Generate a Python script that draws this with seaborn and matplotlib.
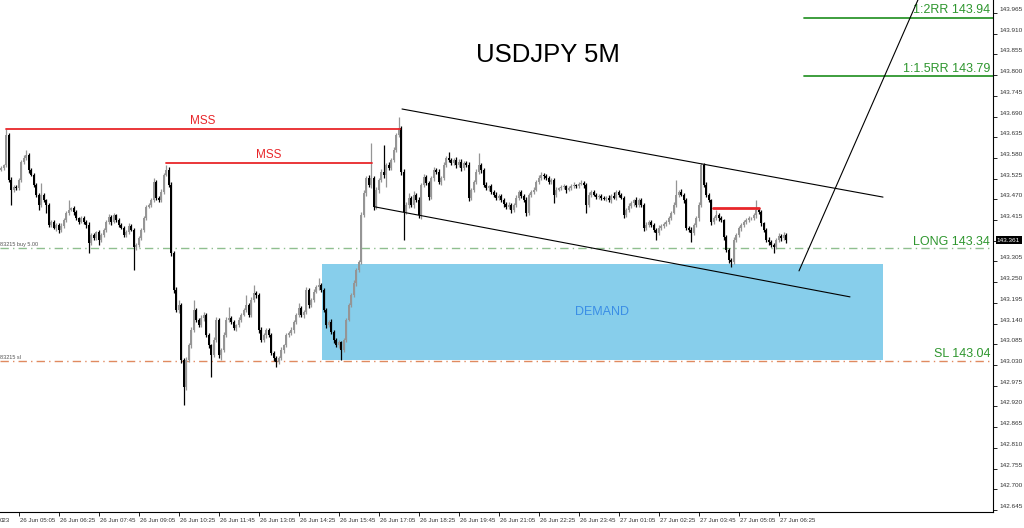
import numpy as np
import pandas as pd
import matplotlib
matplotlib.use('Agg')
import matplotlib.pyplot as plt
import matplotlib.transforms as mtransforms
import seaborn as sns

# close prices in points above 143.000 (1 pt = 0.001)
closes = [
    553, 561, 640, 521, 495, 503, 500, 521, 570, 580,
    588, 548, 535, 508, 482, 455, 482, 468, 455, 402,
    410, 394, 402, 389, 399, 415, 434, 442, 447, 436,
    420, 410, 420, 410, 402, 354, 375, 367, 383, 362,
    375, 389, 410, 423, 410, 428, 415, 402, 394, 375,
    383, 399, 389, 343, 349, 367, 389, 420, 450, 455,
    468, 516, 474, 468, 490, 535, 548, 508, 327, 229,
    176, 190, 43, -28, 43, 83, 123, 176, 150, 136,
    155, 163, 110, 83, 57, 96, 150, 57, 70, 110,
    150, 155, 144, 128, 136, 150, 163, 176, 190, 163,
    203, 221, 216, 123, 96, 110, 123, 110, 62, 49,
    38, 49, 70, 83, 110, 115, 123, 144, 163, 182,
    163, 171, 229, 190, 203, 224, 237, 243, 229, 176,
    136, 144, 118, 96, 83, 91, 70, 96, 150, 190,
    216, 248, 282, 304, 428, 487, 527, 508, 527, 450,
    495, 521, 543, 535, 561, 553, 575, 601, 641, 660,
    543, 436, 455, 474, 455, 482, 468, 428, 508, 529,
    513, 476, 527, 548, 543, 516, 527, 561, 580, 575,
    567, 575, 561, 570, 553, 567, 561, 474, 495, 516,
    543, 561, 548, 508, 500, 505, 490, 482, 474, 479,
    468, 458, 450, 455, 442, 455, 474, 490, 479, 468,
    434, 482, 490, 495, 516, 527, 535, 532, 527, 516,
    521, 482, 495, 500, 503, 505, 495, 500, 505, 508,
    505, 511, 513, 508, 455, 482, 490, 482, 476, 479,
    474, 471, 474, 468, 479, 474, 490, 482, 474, 428,
    442, 452, 460, 468, 455, 468, 455, 394, 402, 410,
    402, 389, 381, 394, 399, 405, 410, 420, 434, 455,
    482, 490, 482, 468, 394, 389, 381, 402, 420, 455,
    561, 508, 482, 468, 410, 420, 428, 420, 415, 370,
    335, 309, 304, 362, 375, 394, 402, 410, 415, 420,
    420, 428, 442, 436, 407, 389, 362, 357, 349, 343,
    362, 373, 367, 375, 361,
]
first_open = 548

# upper / lower wick lengths in points
wick_up = [
    5, 4, 17, 6, 8, 5, 4, 6, 5, 7,
    13, 5, 6, 4, 5, 6, 31, 5, 4, 6,
    5, 6, 4, 5, 7, 5, 6, 26, 4, 5,
    6, 4, 5, 7, 4, 8, 5, 6, 4, 5,
    6, 5, 4, 7, 5, 6, 4, 5, 6, 4,
    5, 8, 6, 5, 4, 6, 5, 7, 4, 6,
    5, 11, 6, 4, 7, 5, 13, 9, 8, 6,
    7, 12, 6, 5, 8, 6, 9, 27, 6, 5,
    8, 7, 5, 6, 4, 9, 7, 5, 6, 8,
    7, 29, 5, 6, 4, 7, 5, 6, 26, 5,
    8, 22, 6, 5, 7, 4, 6, 5, 6, 4,
    5, 6, 7, 4, 6, 5, 7, 6, 5, 13,
    6, 5, 7, 5, 6, 8, 5, 18, 6, 5,
    6, 5, 7, 4, 6, 5, 4, 7, 6, 5,
    6, 8, 7, 5, 9, 7, 6, 8, 93, 6,
    7, 5, 8, 71, 6, 9, 5, 7, 6, 29,
    6, 8, 7, 12, 6, 9, 5, 7, 6, 8,
    5, 7, 6, 9, 5, 7, 6, 8, 5, 16,
    6, 5, 7, 6, 8, 5, 6, 7, 5, 6,
    7, 32, 6, 5, 7, 4, 6, 5, 7, 6,
    5, 6, 4, 7, 5, 6, 8, 5, 6, 4,
    7, 5, 6, 8, 5, 7, 8, 6, 5, 4,
    6, 5, 7, 4, 6, 5, 4, 6, 5, 7,
    4, 6, 8, 5, 6, 7, 5, 4, 6, 5,
    4, 6, 5, 7, 4, 11, 6, 5, 4, 6,
    5, 7, 6, 4, 8, 5, 6, 4, 7, 5,
    6, 4, 5, 7, 5, 6, 4, 7, 5, 8,
    39, 6, 7, 5, 6, 4, 7, 5, 6, 8,
    6, 5, 7, 6, 4, 5, 14, 6, 5, 4,
    5, 6, 4, 7, 5, 6, 5, 4, 6, 5,
    4, 6, 26, 5, 6, 4, 5, 7, 4, 6,
    5, 8, 6, 9, 5,
]
wick_dn = [
    4, 6, 5, 4, 40, 6, 5, 4, 6, 5,
    5, 7, 4, 6, 5, 13, 6, 4, 21, 5,
    6, 4, 7, 9, 5, 4, 6, 5, 4, 7,
    5, 6, 4, 5, 7, 26, 5, 4, 6, 13,
    5, 4, 6, 5, 7, 4, 6, 5, 4, 6,
    5, 6, 4, 61, 7, 5, 4, 6, 5, 4,
    6, 5, 7, 4, 6, 5, 4, 6, 8, 9,
    6, 8, 7, 48, 9, 6, 8, 5, 7, 6,
    5, 8, 6, 7, 59, 6, 5, 8, 14, 6,
    5, 7, 6, 5, 8, 6, 5, 4, 6, 5,
    6, 5, 7, 8, 6, 5, 7, 6, 5, 8,
    13, 6, 5, 7, 4, 6, 5, 7, 4, 6,
    5, 7, 6, 8, 5, 6, 4, 7, 5, 6,
    7, 5, 6, 8, 5, 7, 27, 6, 5, 4,
    6, 5, 7, 4, 6, 5, 8, 6, 7, 9,
    6, 8, 5, 7, 32, 6, 5, 7, 6, 5,
    8, 74, 6, 7, 5, 8, 6, 7, 9, 5,
    6, 8, 5, 7, 6, 5, 8, 6, 5, 7,
    5, 6, 8, 5, 7, 6, 5, 9, 6, 5,
    6, 5, 7, 6, 5, 8, 6, 5, 7, 6,
    5, 7, 6, 5, 8, 6, 5, 7, 6, 5,
    9, 6, 5, 7, 4, 6, 5, 7, 6, 5,
    6, 22, 5, 4, 6, 5, 7, 4, 6, 5,
    6, 5, 4, 7, 21, 5, 6, 4, 5, 6,
    5, 4, 6, 5, 7, 4, 5, 6, 4, 7,
    6, 5, 4, 7, 5, 6, 4, 8, 6, 5,
    5, 7, 19, 5, 6, 4, 7, 5, 6, 4,
    5, 6, 4, 7, 6, 5, 24, 6, 5, 7,
    6, 5, 7, 4, 8, 6, 5, 7, 6, 8,
    6, 7, 14, 5, 6, 4, 7, 5, 6, 5,
    6, 5, 7, 4, 8, 6, 5, 7, 6, 16,
    6, 5, 7, 5, 6,
]

start_time = '2023-06-26 04:30'
tick_labels = ['26 Jun 05:05', '26 Jun 06:25', '26 Jun 07:45', '26 Jun 09:05',
               '26 Jun 10:25', '26 Jun 11:45', '26 Jun 13:05', '26 Jun 14:25',
               '26 Jun 15:45', '26 Jun 17:05', '26 Jun 18:25', '26 Jun 19:45',
               '26 Jun 21:05', '26 Jun 22:25', '26 Jun 23:45', '27 Jun 01:05',
               '27 Jun 02:25', '27 Jun 03:45', '27 Jun 05:05', '27 Jun 06:25']
y_ticks = [142.645, 142.700, 142.755, 142.810, 142.865, 142.920, 142.975, 143.030,
           143.085, 143.140, 143.195, 143.250, 143.305, 143.360, 143.415, 143.470,
           143.525, 143.580, 143.635, 143.690, 143.745, 143.800, 143.855, 143.910,
           143.965]

long_price = 143.34
sl_price = 143.04
rr15_price = 143.798
rr2_price = 143.952
last_price = 143.361
mss1 = (2, 159.6, 143.657)
mss2 = (66, 148.4, 143.567)
mini_high = (284.8, 303, 143.447)
demand = (128.4, 352.8, 143.043, 143.298)
upper_channel = [(160.4, 143.710), (352.8, 143.476)]
lower_channel = [(149.6, 143.450), (339.6, 143.211)]
projection = [(319.2, 143.280), (366.8, 144.000)]

# ---- build candles
times = pd.date_range(start_time, periods=len(closes), freq='5min')
df = pd.DataFrame({'time': times, 'close': closes})
df['open'] = [first_open] + closes[:-1]
df['high'] = df[['open', 'close']].max(axis=1) + wick_up
df['low'] = df[['open', 'close']].min(axis=1) - wick_dn
for col in ['open', 'close', 'high', 'low']:
    df[col] = 143 + df[col] / 1000
df['x'] = np.arange(len(df))
df['bull'] = df['close'] >= df['open']

sns.set_theme(style='white')
plt.rcParams['font.family'] = ['Liberation Sans', 'DejaVu Sans']

fig = plt.figure(figsize=(10.24, 5.28), dpi=100)
ax = fig.add_axes([0, 16 / 528, 993 / 1024, 512 / 528])

bull_c, bear_c = '#959595', '#000000'
colors = np.where(df['bull'], bull_c, bear_c)

# demand zone
ax.add_patch(plt.Rectangle((demand[0], demand[2]), demand[1] - demand[0], demand[3] - demand[2],
                           facecolor='#87ceeb', edgecolor='none', zorder=1))
ax.text((demand[0] + demand[1]) / 2, (demand[2] + demand[3]) / 2, 'DEMAND',
        color='#3a8ee6', fontsize=9, ha='center', va='center', zorder=2)

# entry / stop lines
ax.axhline(long_price, color='#8fbf8f', lw=1, ls=(0, (6, 3, 1, 3)), zorder=1)
ax.axhline(sl_price, color='#e08a60', lw=1, ls=(0, (6, 3, 1, 3)), zorder=1)

ax.vlines(df['x'], df['low'], df['high'], colors=colors, lw=0.9, zorder=3)
body = (df['close'] - df['open']).abs().clip(lower=0.0015)
ax.bar(df['x'], body, bottom=df[['open', 'close']].min(axis=1), width=0.78,
       color=colors, linewidth=0, zorder=4)

# structure lines
red = '#e8262a'
for x0, x1, p in [mss1, mss2]:
    ax.plot([x0, x1], [p, p], color=red, lw=1.3, zorder=5)
    ax.text((x0 + x1) / 2, p + 0.004, 'MSS', color=red, fontsize=8.5, ha='center', va='bottom')
ax.plot([mini_high[0], mini_high[1]], [mini_high[2]] * 2, color=red, lw=2, zorder=5)

for line in [upper_channel, lower_channel, projection]:
    ax.plot([p[0] for p in line], [p[1] for p in line], color='black', lw=0.8, zorder=5)

green = '#2e962e'
ax.plot([321.2, 396.8], [rr2_price] * 2, color=green, lw=1.3)
ax.plot([321.2, 396.8], [rr15_price] * 2, color=green, lw=1.3)
xr = 395.6
ax.text(xr, rr2_price + 0.004, '1:2RR 143.94', color=green, fontsize=9, ha='right', va='bottom')
ax.text(xr, rr15_price + 0.003, '1:1.5RR 143.79', color=green, fontsize=9, ha='right', va='bottom')
ax.text(xr, long_price + 0.002, 'LONG 143.34', color=green, fontsize=9, ha='right', va='bottom')
ax.text(xr, sl_price + 0.002, 'SL 143.04', color=green, fontsize=9, ha='right', va='bottom')

ax.text(-0.3, long_price + 0.004, '83215 buy 5.00', color='#555555', fontsize=4, ha='left', va='bottom')
ax.text(-0.3, sl_price + 0.004, '83215 sl', color='#555555', fontsize=4, ha='left', va='bottom')

ax.text(218.8, 143.853, 'USDJPY 5M', color='black', fontsize=18.5, ha='center', va='center')

# axes
ax.set_xlim(-0.4, 396.8)
ax.set_ylim(142.6396, 143.9995)
for s in ['top', 'left']:
    ax.spines[s].set_visible(False)
for s in ['right', 'bottom']:
    ax.spines[s].set_color('black')
    ax.spines[s].set_linewidth(0.8)

ax.yaxis.tick_right()
ax.set_yticks(y_ticks)
# the live price box covers the 143.360 label
ax.set_yticklabels(['' if abs(v - last_price) < 0.01 else f'{v:.3f}' for v in y_ticks])
ax.tick_params(axis='y', direction='out', length=3, width=0.6, color='black',
               labelsize=4.6, labelcolor='#333333', pad=2, right=True, left=False)
shift = mtransforms.ScaledTranslation(0, 4 / 100, fig.dpi_scale_trans)
for lbl in ax.get_yticklabels():
    lbl.set_transform(lbl.get_transform() + shift)

tick_pos = [int(np.where(times.strftime('%d %b %H:%M').str.lstrip('0') == t)[0][0]) for t in tick_labels]
ax.set_xticks(tick_pos)
ax.set_xticklabels(tick_labels, ha='left')
ax.tick_params(axis='x', direction='out', length=3, width=0.6, color='black',
               labelsize=4.4, labelcolor='#333333', pad=1.5, bottom=True)
xshift = mtransforms.ScaledTranslation(2 / 100, 0, fig.dpi_scale_trans)
for lbl in ax.get_xticklabels():
    lbl.set_transform(lbl.get_transform() + xshift)
fig.text(0.0, 8 / 528, '023', fontsize=4.4, color='#333333', ha='left', va='center')

ax.text(1.004, last_price, f'{last_price:.3f}', transform=ax.get_yaxis_transform(),
        fontsize=4.6, color='white', ha='left', va='center',
        bbox=dict(facecolor='black', edgecolor='none', pad=1))

fig.savefig('out.png', dpi=100)
